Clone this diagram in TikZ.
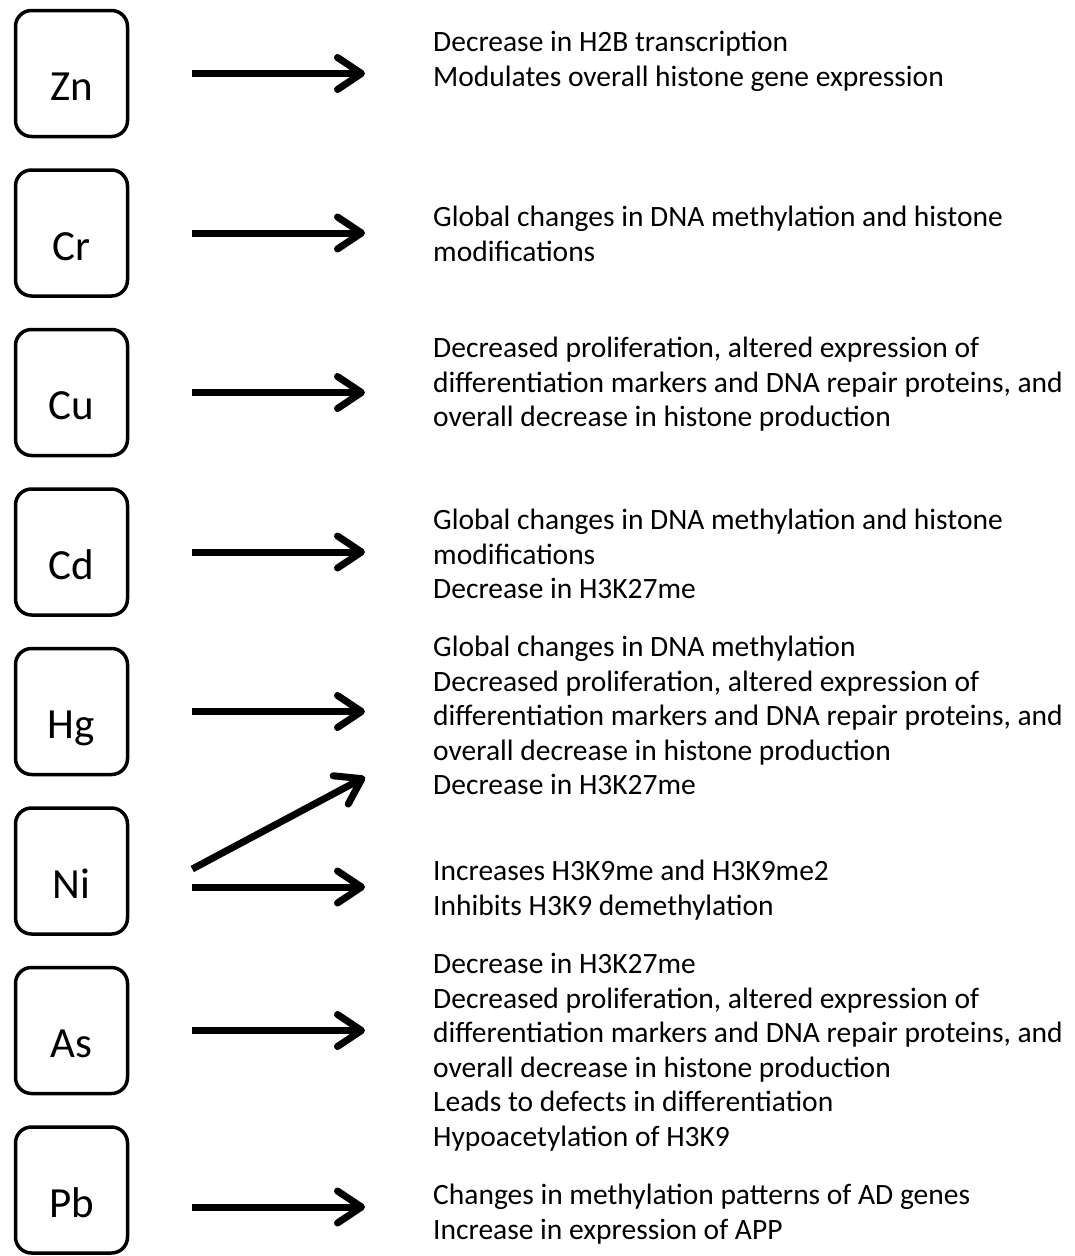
\documentclass[tikz,border=0pt]{standalone}
\usepackage{fontspec}
\setmainfont{Carlito}
\usetikzlibrary{arrows.meta}

\begin{document}
\begin{tikzpicture}[x=1pt,y=-1pt,
  metal/.style={draw,line width=3.5pt,rounded corners=16pt,minimum width=112pt,minimum height=126pt,inner sep=0pt,text height=60pt,text depth=6pt,font=\fontsize{43}{50}\selectfont},
  effect/.style={anchor=north west,align=left,inner sep=0pt,font=\fontsize{29.5}{34.5}\selectfont},
  arr/.style={line width=7pt,-{Straight Barb[length=24pt,width=32pt,line cap=round,line join=round]},shorten <=63pt,shorten >=68pt}]
\useasboundingbox (0,0) rectangle (1074,1256);
\foreach \m[count=\i from 0] in {Zn,Cr,Cu,Cd,Hg,Ni,As,Pb} {
   \node[metal] (\m) at (71.5,73.5+159.5*\i) {\m};
}
% effects
\node[effect] (tZn) at (433,31) {Decrease in H2B transcription\\Modulates overall histone gene expression};
\node[effect] (tCr) at (433,206) {Global changes in DNA methylation and histone\\modifications};
\node[effect] (tCu) at (433,337) {Decreased proliferation, altered expression of\\differentiation markers and DNA repair proteins, and\\overall decrease in histone production};
\node[effect] (tCd) at (433,509) {Global changes in DNA methylation and histone\\modifications\\Decrease in H3K27me};
\node[effect] (tHg) at (433,636) {Global changes in DNA methylation\\Decreased proliferation, altered expression of\\differentiation markers and DNA repair proteins, and\\overall decrease in histone production\\Decrease in H3K27me};
\node[effect] (tNi) at (433,860) {Increases H3K9me and H3K9me2\\Inhibits H3K9 demethylation};
\node[effect] (tAs) at (433,953) {Decrease in H3K27me\\Decreased proliferation, altered expression of\\differentiation markers and DNA repair proteins, and\\overall decrease in histone production\\Leads to defects in differentiation\\Hypoacetylation of H3K9};
\node[effect] (tPb) at (433,1184) {Changes in methylation patterns of AD genes\\Increase in expression of APP};

\foreach \m/\dy in {Zn/0,Cr/0,Cu/0,Cd/0,Hg/0,Ni/-16,As/0,Pb/-17} {
  \draw[arr] ([yshift=\dy]\m.east) -- ([yshift=\dy]\m.east -| t\m.west);
}
\coordinate (NiUp) at (365,777);
\draw[arr,shorten <=0pt,shorten >=0pt] ([xshift=63,yshift=2]Ni.east) -- (NiUp);
\end{tikzpicture}
\end{document}
